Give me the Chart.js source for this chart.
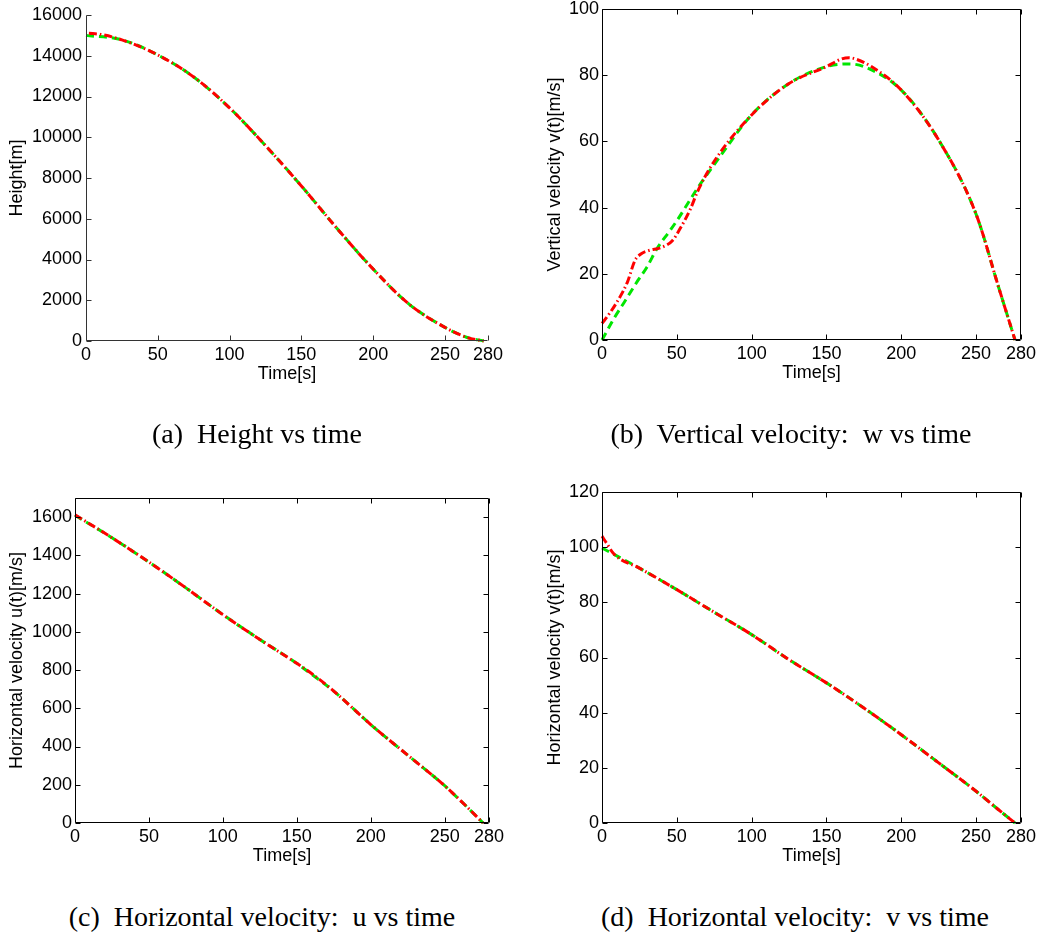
<!DOCTYPE html>
<html>
<head>
<meta charset="utf-8">
<script src="https://cdn.jsdelivr.net/npm/chart.js@4.4.0/dist/chart.umd.min.js"></script>
<style>
  html, body { margin: 0; padding: 0; background: #fff; overflow: hidden; }
  body { position: relative; width: 1044px; height: 936px; }
  canvas { position: absolute; }
  .cap { position: absolute; font-family: "Liberation Serif", serif; font-size: 28px; line-height: 28px;
         text-align: center; white-space: pre; color: #000; }
</style>
</head>
<body>
<canvas id="cA" width="540" height="440" style="left:0;top:-40px"></canvas>
<canvas id="cB" width="524" height="440" style="left:520px;top:-40px"></canvas>
<canvas id="cC" width="540" height="440" style="left:0;top:440px"></canvas>
<canvas id="cD" width="524" height="440" style="left:520px;top:440px"></canvas>

<div class="cap" style="left:57px;top:420px;width:400px">(a)  Height vs time</div>
<div class="cap" style="left:541px;top:420px;width:500px">(b)  Vertical velocity:  w vs time</div>
<div class="cap" style="left:12px;top:903px;width:500px">(c)  Horizontal velocity:  u vs time</div>
<div class="cap" style="left:545px;top:903px;width:500px">(d)  Horizontal velocity:  v vs time</div>

<script>
// time axis shared by all four panels
const timeTicks = [0, 50, 100, 150, 200, 250, 280];

// (a) height
const heightTime = [0, 25, 50, 75, 100, 125, 150, 175, 200, 225, 250, 265, 277];
const heightGreen = [15000, 14780, 14040, 12960, 11440, 9590, 7610, 5510, 3530, 1810, 670, 185, 0];
const heightRedTime = [2, 10, 25, 50, 75, 100, 125, 150, 175, 200, 225, 250, 265, 277];
const heightRed = [15100, 15050, 14780, 14040, 12960, 11440, 9590, 7610, 5510, 3530, 1810, 670, 185, 0];
const heightTicks = [0, 2000, 4000, 6000, 8000, 10000, 12000, 14000, 16000];

// (b) vertical velocity w
const wGreenTime = [0, 8, 15, 24, 30, 37, 45, 50, 57, 64, 75, 100, 125, 150, 165, 175, 200, 225, 250, 265, 276];
const wGreen = [0, 6.5, 11.5, 18, 22, 27.8, 32.8, 36, 41, 46, 53, 68, 77.5, 82.6, 83.4, 82.6, 75.5, 60.4, 38, 16, 0];
const wRedTime = [0, 5, 12, 17, 22, 26, 31, 40, 47, 52, 59, 64, 75, 100, 125, 150, 160, 165, 170, 180, 200, 225, 250, 265, 276];
const wRed = [5, 8, 13, 17.5, 24, 26, 27, 28, 30, 33.5, 39.5, 45, 54, 68, 77.5, 82.6, 84.9, 85.3, 84.8, 82.6, 75.5, 60.4, 38, 16, 0];
const wTicks = [0, 20, 40, 60, 80, 100];

// (c) horizontal velocity u
const uTime = [0, 25, 50, 75, 100, 125, 150, 160, 175, 200, 225, 250, 265, 276];
const uGreen = [1610, 1492, 1365, 1230, 1090, 960, 835, 778, 690, 515, 355, 195, 85, 0];
const uRed = [1612, 1492, 1365, 1230, 1090, 960, 835, 782, 690, 515, 355, 195, 85, 0];
const uTicks = [0, 200, 400, 600, 800, 1000, 1200, 1400, 1600];

// (d) horizontal velocity v
const vTime = [0, 25, 50, 75, 100, 125, 150, 175, 200, 225, 250, 265, 276];
const vGreen = [99.7, 92.4, 84.6, 76.4, 68.3, 59.2, 50.8, 41.7, 32, 21.8, 11.5, 4.8, 0];
const vRedTime = [0, 3, 8, 25, 50, 75, 100, 125, 150, 175, 200, 225, 250, 265, 276];
const vRed = [104, 101.5, 97.5, 92.4, 84.6, 76.4, 68.3, 59.2, 50.8, 41.7, 32, 21.8, 11.5, 4.8, 0];
const vTicks = [0, 20, 40, 60, 80, 100, 120];

Chart.defaults.font.family = '"Liberation Sans", Arial, sans-serif';
Chart.defaults.font.size = 18;
Chart.defaults.color = '#000';

const pts = (xs, ys) => xs.map((x, i) => ({ x, y: ys[i] }));

// matlab style axes: inward ticks, optional full box
const matlabAxes = {
  id: 'matlabAxes',
  afterDatasetsDraw(chart, args, opts) {
    const { ctx, chartArea: a, scales: { x, y } } = chart;
    const L = Math.floor(a.left) + 0.5, R = Math.round(a.right) - 0.5;
    const T = Math.floor(a.top) + 0.5, B = Math.round(a.bottom) - 0.5;
    const tl = 5;
    ctx.save();
    ctx.strokeStyle = opts.box ? '#000' : '#333';
    ctx.lineWidth = 1;
    ctx.beginPath();
    if (opts.box) {
      ctx.rect(L, T, R - L, B - T);
    } else {
      ctx.moveTo(L, T); ctx.lineTo(L, B); ctx.lineTo(R, B);
    }
    x.ticks.forEach(t => {
      const px = Math.round(x.getPixelForValue(t.value)) + 0.5;
      ctx.moveTo(px, B); ctx.lineTo(px, B - tl);
      if (opts.box) { ctx.moveTo(px, T); ctx.lineTo(px, T + tl); }
    });
    y.ticks.forEach(t => {
      const py = Math.round(y.getPixelForValue(t.value)) + 0.5;
      ctx.moveTo(L, py); ctx.lineTo(L + tl, py);
      if (opts.box) { ctx.moveTo(R, py); ctx.lineTo(R - tl, py); }
    });
    ctx.stroke();
    ctx.restore();
  }
};

function panel(id, s) {
  const line = { showLine: true, pointRadius: 0, fill: false, borderWidth: 3, clip: false,
                 cubicInterpolationMode: 'monotone', borderCapStyle: 'butt' };
  new Chart(document.getElementById(id), {
    type: 'scatter',
    data: {
      datasets: [
        { ...line, data: pts(s.redT, s.red), borderColor: '#ff0000', borderDash: [8, 3, 1.5, 3] },
        { ...line, data: pts(s.greenT, s.green), borderColor: '#00e600', borderDash: [8, 5] }
      ]
    },
    plugins: [matlabAxes],
    options: {
      responsive: false,
      animation: false,
      events: [],
      layout: { padding: { top: s.padTop, right: s.padRight, left: 0, bottom: 0 } },
      plugins: { legend: { display: false }, tooltip: { enabled: false }, matlabAxes: { box: s.box } },
      scales: {
        x: {
          type: 'linear', min: 0, max: 280,
          afterBuildTicks: sc => { sc.ticks = timeTicks.map(v => ({ value: v })); },
          afterFit: sc => { sc.height = s.xHeight; },
          grid: { display: false, drawTicks: false },
          border: { display: false },
          ticks: { padding: 3, autoSkip: false, maxRotation: 0, callback: v => String(v) },
          title: { display: true, text: 'Time[s]', font: { size: 18, lineHeight: 1 },
                   padding: { top: 0, bottom: s.xTitlePad } }
        },
        y: {
          type: 'linear', min: 0, max: s.yMax,
          afterBuildTicks: sc => { sc.ticks = s.yTicks.map(v => ({ value: v })); },
          afterFit: sc => { sc.width = s.yWidth; },
          grid: { display: false, drawTicks: false },
          border: { display: false },
          ticks: { padding: s.yPad, autoSkip: false, callback: v => String(v) },
          title: { display: true, text: s.yTitle, font: { size: 18, lineHeight: 1 },
                   padding: { top: s.yTitlePad, bottom: 0 } }
        }
      }
    }
  });
}

panel('cA', {
  redT: heightRedTime, red: heightRed, greenT: heightTime, green: heightGreen,
  yMax: 16000, yTicks: heightTicks, yTitle: 'Height[m]', box: false,
  padTop: 55, padRight: 52, yWidth: 86, xHeight: 59, xTitlePad: 17.3, yPad: 4, yTitlePad: 8.5
});
panel('cB', {
  redT: wRedTime, red: wRed, greenT: wGreenTime, green: wGreen,
  yMax: 100, yTicks: wTicks, yTitle: 'Vertical velocity v(t)[m/s]', box: true,
  padTop: 49, padRight: 23, yWidth: 82, xHeight: 60, xTitlePad: 18.3, yPad: 3, yTitlePad: 26
});
panel('cC', {
  redT: uTime, red: uRed, greenT: uTime, green: uGreen,
  yMax: 1700, yTicks: uTicks, yTitle: 'Horizontal velocity u(t)[m/s]', box: true,
  padTop: 58, padRight: 51, yWidth: 75, xHeight: 57, xTitlePad: 15.3, yPad: 3, yTitlePad: 8.5
});
panel('cD', {
  redT: vRedTime, red: vRed, greenT: vTime, green: vGreen,
  yMax: 120, yTicks: vTicks, yTitle: 'Horizontal velocity v(t)[m/s]', box: true,
  padTop: 52, padRight: 23, yWidth: 82, xHeight: 57, xTitlePad: 15.3, yPad: 3, yTitlePad: 26
});
</script>
</body>
</html>
